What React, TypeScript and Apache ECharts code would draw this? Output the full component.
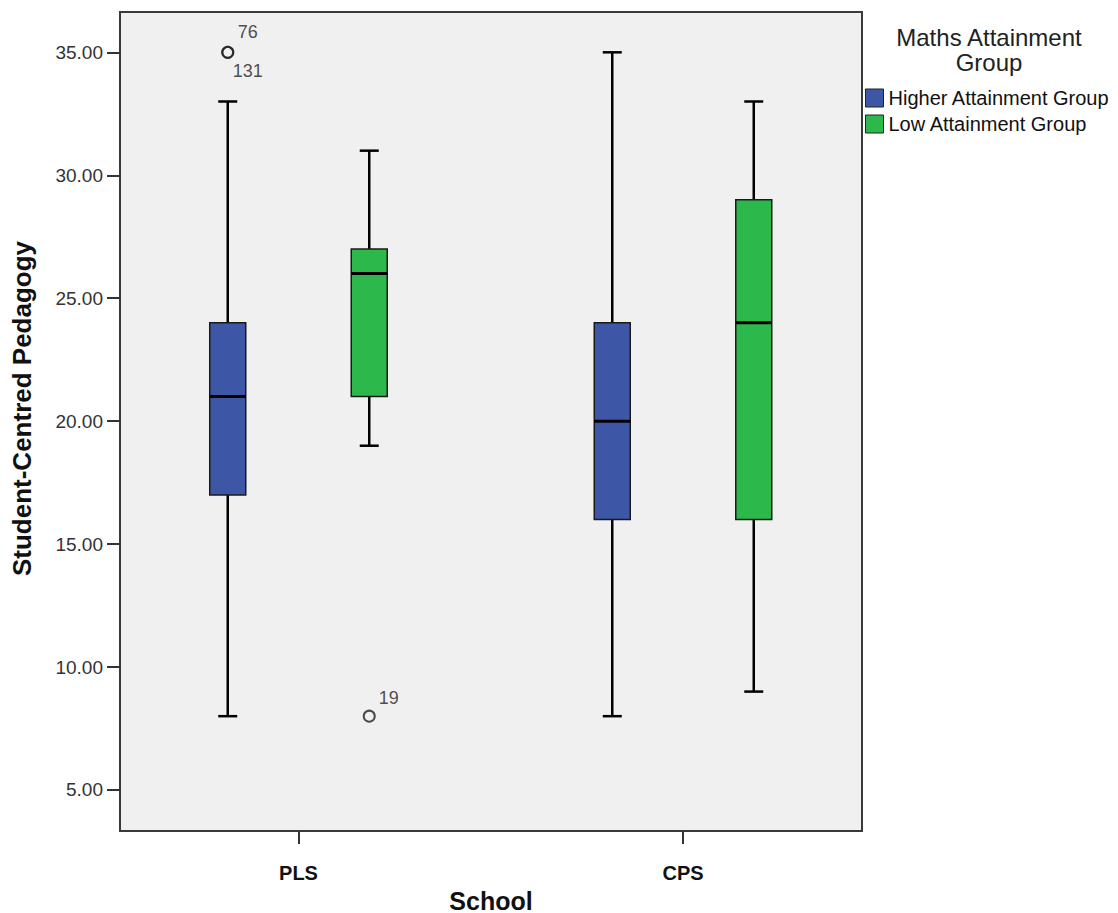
import React, { useEffect, useRef } from 'react';
import * as echarts from 'echarts';

const schools = ['PLS', 'CPS'];
const groups = ['Higher Attainment Group', 'Low Attainment Group'];
// [min, Q1, median, Q3, max] per school
const higherStats = [
  [8, 17, 21, 24, 33],
  [8, 16, 20, 24, 35],
];
const lowStats = [
  [19, 21, 26, 27, 31],
  [9, 16, 24, 29, 33],
];
const outlierSchool = ['PLS', 'PLS', 'PLS'];
const outlierGroup = [0, 0, 1];
const outlierValues = [35, 35, 8];
const outlierIds = ['76', '131', '19'];
const yTicks = [5, 10, 15, 20, 25, 30, 35];
const groupColors = ['#3D56A6', '#2DB84B'];

const FONT = '"Liberation Sans", Arial, sans-serif';
const GROUP_OFFSET = [-0.184, 0.184];
const labelOffsets: [number, number][] = [
  [20, -20],
  [20, 19],
  [19.5, -18.5],
];

const schoolPos = (s: string) => schools.indexOf(s) + 1;

export default function App() {
  const ref = useRef<HTMLDivElement>(null);
  useEffect(() => {
    if (!ref.current) return;
    const chart = echarts.init(ref.current, undefined, { renderer: 'svg' });

    const boxSeries = [higherStats, lowStats].map((stats, g) => ({
      type: 'custom',
      name: groups[g],
      itemStyle: { color: groupColors[g], borderColor: '#222', borderWidth: 1 },
      encode: { x: 0, y: [1, 2, 3, 4, 5] },
      data: stats.map((st, i) => [i + 1 + GROUP_OFFSET[g], ...st]),
      renderItem: (params: any, api: any) => {
        const x = api.value(0);
        const pMin = api.coord([x, api.value(1)]);
        const yQ1 = api.coord([x, api.value(2)])[1];
        const yMed = api.coord([x, api.value(3)])[1];
        const yQ3 = api.coord([x, api.value(4)])[1];
        const yMax = api.coord([x, api.value(5)])[1];
        const cx = pMin[0];
        const yMin = pMin[1];
        const hw = 18;
        const cw = 9.5;
        const ls = { stroke: '#000', lineWidth: 2.5 };
        return {
          type: 'group',
          children: [
            { type: 'line', shape: { x1: cx, y1: yMax, x2: cx, y2: yQ3 }, style: ls },
            { type: 'line', shape: { x1: cx, y1: yQ1, x2: cx, y2: yMin }, style: ls },
            { type: 'line', shape: { x1: cx - cw, y1: yMax, x2: cx + cw, y2: yMax }, style: ls },
            { type: 'line', shape: { x1: cx - cw, y1: yMin, x2: cx + cw, y2: yMin }, style: ls },
            {
              type: 'rect',
              shape: { x: cx - hw, y: yQ3, width: hw * 2, height: yQ1 - yQ3 },
              style: { fill: groupColors[g], stroke: '#1a1a1a', lineWidth: 1.5 },
            },
            {
              type: 'line',
              shape: { x1: cx - hw, y1: yMed, x2: cx + hw, y2: yMed },
              style: { stroke: '#000', lineWidth: 3 },
            },
          ],
        };
      },
    }));

    const outlierData = outlierValues.map((v, i) => ({
      name: outlierIds[i],
      value: [schoolPos(outlierSchool[i]) + GROUP_OFFSET[outlierGroup[i]], v],
      label: { offset: labelOffsets[i] },
    }));

    chart.setOption({
      animation: false,
      title: {
        text: 'Maths Attainment\nGroup',
        left: 984,
        top: 20,
        textAlign: 'center',
        textStyle: {
          fontFamily: FONT,
          fontSize: 24,
          lineHeight: 25,
          fontWeight: 'normal',
          color: '#222',
        },
      },
      legend: {
        data: groups,
        orient: 'vertical',
        left: 860,
        top: 83,
        padding: 5,
        icon: 'rect',
        itemWidth: 18,
        itemHeight: 18,
        itemGap: 6,
        itemStyle: { borderColor: '#222', borderWidth: 1 },
        textStyle: { fontFamily: FONT, fontSize: 20, color: '#111' },
      },
      grid: {
        left: 120,
        top: 12,
        width: 742,
        height: 819,
        outerBoundsMode: 'none',
        containLabel: false,
        show: true,
        backgroundColor: '#F0F0F0',
        borderColor: '#3a3a3a',
        borderWidth: 2,
      },
      xAxis: {
        type: 'value',
        min: 0.5358,
        max: 2.4655,
        name: 'School',
        nameLocation: 'middle',
        nameGap: 53,
        nameTextStyle: {
          fontFamily: FONT,
          fontSize: 25,
          lineHeight: 27,
          fontWeight: 'bold',
          color: '#111',
        },
        axisLine: { show: false },
        splitLine: { show: false },
        axisTick: {
          show: true,
          customValues: schools.map((s) => schoolPos(s)),
          length: 13,
          lineStyle: { color: '#333', width: 2 },
        },
        axisLabel: {
          customValues: schools.map((s) => schoolPos(s)),
          formatter: (v: number) => schools[Math.round(v) - 1] ?? '',
          margin: 32,
          fontFamily: FONT,
          fontSize: 20,
          fontWeight: 'bold',
          color: '#111',
        },
      },
      yAxis: {
        type: 'value',
        min: 3.33,
        max: 36.64,
        name: 'Student-Centred Pedagogy',
        nameLocation: 'middle',
        nameGap: 85,
        nameTextStyle: {
          fontFamily: FONT,
          fontSize: 26,
          fontWeight: 'bold',
          color: '#111',
          padding: [0, 0, 0, 26],
        },
        axisLine: { show: false },
        splitLine: { show: false },
        axisTick: {
          show: true,
          customValues: yTicks,
          length: 13,
          lineStyle: { color: '#333', width: 2 },
        },
        axisLabel: {
          customValues: yTicks,
          formatter: (v: number) => v.toFixed(2),
          margin: 17,
          fontFamily: FONT,
          fontSize: 19,
          color: '#333',
        },
      },
      series: [
        ...boxSeries,
        {
          type: 'scatter',
          name: 'Outliers',
          symbol: 'circle',
          symbolSize: 11,
          itemStyle: { color: 'rgba(0,0,0,0)', borderColor: '#222', borderWidth: 2 },
          label: {
            show: true,
            position: 'inside',
            formatter: '{b}',
            fontFamily: FONT,
            fontSize: 18,
            color: '#222',
          },
          data: outlierData,
          z: 5,
        },
      ],
    });
    return () => chart.dispose();
  }, []);
  return (
    <div
      ref={ref}
      style={{ position: 'fixed', left: 0, top: 0, width: 1118, height: 913, background: '#fff' }}
    />
  );
}
